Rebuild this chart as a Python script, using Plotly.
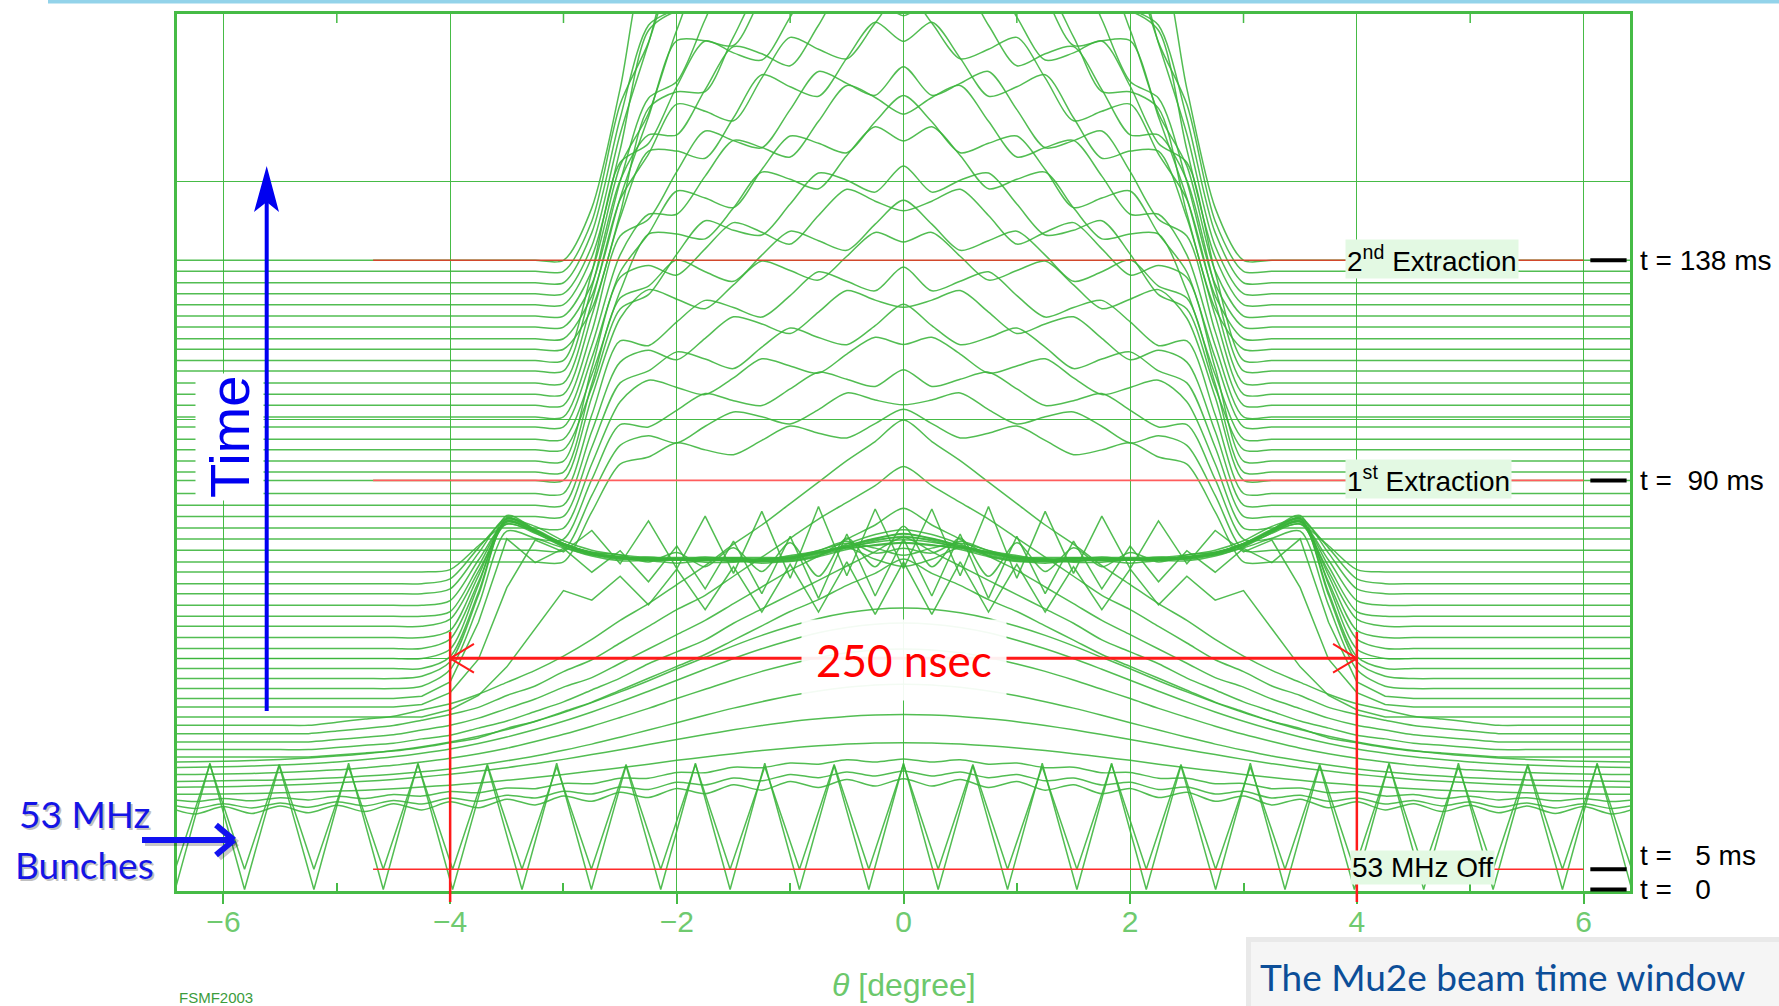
import plotly.graph_objects as go

# ---------------------------------------------------------------- data ----
# half-profile angle grid (mirrored to negative angles when drawn)
THETA_HALF = [0.0, 0.25, 0.5, 0.75, 1.0, 1.25, 1.5, 1.75, 2.0, 2.25, 2.5, 2.75, 3.0,
              3.25, 3.5, 3.75, 4.0, 4.25, 4.5, 4.75, 5.0, 5.25, 5.5, 5.75, 6.0, 6.25, 6.5]
# 53 MHz bunch grid: peaks / valleys every half bunch spacing
THETA_BUNCH_HALF = [0.0, 0.306, 0.612, 0.918, 1.224, 1.53, 1.836, 2.142, 2.448, 2.754, 3.06,
                    3.366, 3.672, 3.978, 4.284, 4.59, 4.896, 5.202, 5.508, 5.814, 6.12, 6.426]

# bunched traces (t = 0 and t = 5 ms)
BUNCH_OFFSETS = [3.0, 11.5]
BUNCH_T0 = [53, 0, 52, 0, 53, 0, 53, 0, 52, 0, 53, 0, 52, 0, 53, 0, 53, 0, 52, 0, 53, 0]
BUNCH_T5 = [44, 0, 44, 0, 43, 0, 44, 0, 44, 0, 43, 0, 44, 0, 44, 0, 43, 0, 44, 0, 44, 0]

# debunching traces
DEBUNCH_OFFSETS = [36.0, 37.7, 40.2, 42.6, 45.4, 48.1, 50.9, 53.8, 56.1, 58.6, 61.7, 64.9, 68.4, 71.9]
DEBUNCH_PROFILES = [
    [13.5, 10.4, 13.2, 9.8, 12.3, 8.7, 11.0, 7.2, 9.4, 5.6, 7.8, 4.0, 6.2, 2.5, 4.9, 1.3, 3.8, 0.4, 3.0, -0.3, 2.4, -0.8, 2.0, -1.1, 1.8, -1.3, 1.7],
    [15, 12.9, 14.6, 12.2, 13.6, 10.9, 12.1, 9.2, 10.3, 7.3, 8.3, 5.4, 6.5, 3.7, 4.9, 2.3, 3.7, 1.2, 2.7, 0.4, 2.1, -0.2, 1.6, -0.5, 1.3, -0.7, 1.2],
    [17.6, 16.3, 17.2, 15.4, 15.9, 13.9, 14.1, 11.8, 11.9, 9.5, 9.5, 7.2, 7.3, 5.1, 5.4, 3.4, 3.9, 2.0, 2.7, 1.0, 1.9, 0.4, 1.3, 0.0, 1.0, -0.3, 0.8],
    [22, 21.9, 21.4, 20.7, 19.8, 18.7, 17.4, 16.0, 14.6, 13.0, 11.5, 10.1, 8.7, 7.4, 6.2, 5.1, 4.2, 3.4, 2.7, 2.1, 1.7, 1.3, 1.0, 0.7, 0.5, 0.4, 0.3],
    [31, 30.8, 30.2, 29.2, 28.0, 26.4, 24.6, 22.6, 20.5, 18.4, 16.2, 14.2, 12.2, 10.4, 8.7, 7.3, 6.0, 4.8, 3.8, 3.0, 2.4, 1.8, 1.4, 1.0, 0.7, 0.6, 0.4],
    [41, 40.7, 39.7, 38.2, 36.2, 33.7, 31.0, 28.0, 24.9, 21.8, 18.8, 15.9, 13.3, 10.9, 8.9, 7.1, 5.5, 4.3, 3.3, 2.5, 1.8, 1.3, 0.9, 0.7, 0.5, 0.3, 0.2],
    [53, 52.6, 51.4, 49.4, 46.7, 43.6, 40.0, 36.1, 32.2, 28.1, 24.3, 20.6, 17.2, 14.2, 11.4, 9.1, 7.2, 5.6, 4.2, 3.2, 2.3, 1.7, 1.2, 0.8, 0.6, 0.4, 0.3],
    [61, 60.5, 59.1, 56.9, 53.8, 50.2, 46.1, 41.6, 37.0, 32.4, 27.9, 23.7, 19.8, 16.3, 13.2, 10.5, 8.2, 6.4, 4.9, 3.7, 2.7, 2.0, 1.4, 1.0, 0.7, 0.5, 0.3],
    [65, 64.5, 63.0, 60.6, 57.3, 53.5, 49.1, 44.3, 39.5, 34.5, 29.8, 25.3, 21.1, 17.4, 14.0, 11.2, 8.8, 6.8, 5.2, 3.9, 2.9, 2.1, 1.5, 1.0, 0.7, 0.5, 0.3],
    [83, 77, 72, 66, 61, 55, 49, 43, 38, 33, 28, 23, 19, 15, 12, 8, 6, 4, 2.5, 1.7, 0.8, 0, 0, 0, 0, 0, 0],
    [89, 83, 77, 71, 65, 59, 53, 46, 41, 36, 30, 25, 20, 16, 12, 9, 6, 4.5, 2.7, 1.8, 0.9, 0, 0, 0, 0, 0, 0],
    [98, 91, 85, 78, 72, 65, 58, 51, 45, 39, 33, 27, 23, 18, 14, 10, 7, 5, 3, 2, 1, 0, 0, 0, 0, 0, 0],
    [112, 104, 97, 90, 82, 74, 66, 58, 52, 45, 38, 31, 26, 20, 16, 11, 8, 5.6, 3.4, 2.2, 1.1, 0, 0, 0, 0, 0, 0],
    [128, 119, 111, 102, 93, 84, 76, 67, 59, 51, 44, 36, 29, 23, 18, 13, 9, 6.4, 3.8, 2.6, 1.3, 0, 0, 0, 0, 0, 0],
]

# strongly modulated traces
RIPPLE_OFFSETS = [75.4, 79.6, 83.1]
RIPPLE_PROFILES = [
    [65, 43, 65, 44, 64, 44, 63, 45, 62, 47, 59, 49, 53, 37, 21, 9, 3, 0, 0, 0, 0, 0, 0, 0, 0, 0, 0],
    [58, 83, 55, 84, 54, 82, 56, 80, 58, 78, 60, 74, 65, 70, 50, 20, 6, 1, 0, 0, 0, 0, 0, 0, 0, 0, 0],
    [67, 43, 69, 42, 68, 44, 66, 46, 64, 49, 62, 53, 63, 57, 67, 32, 7, 1, 0, 0, 0, 0, 0, 0, 0, 0, 0],
]

# beam held in the 250 nsec window (flat top with ears)
BUCKET_OFFSETS = [87.3, 91.5, 95.7, 99.9, 104.1, 108.7, 113.4, 117.6, 122.2, 127.1, 131.3, 136.2]
BUCKET_PROFILES = [
    [65, 63, 60, 57, 55, 54, 53, 53, 54, 54, 55, 56, 59, 63, 66, 35, 8, 1, 0, 0, 0, 0, 0, 0, 0, 0, 0],
    [47, 50, 55, 53, 50, 49, 50, 51, 50, 51, 50, 52, 56, 62, 67, 35, 7, 1, 0, 0, 0, 0, 0, 0, 0, 0, 0],
    [54, 53, 51, 49, 47, 46, 46, 46, 46, 46, 47, 48, 52, 58, 63, 32, 5, 0, 0, 0, 0, 0, 0, 0, 0, 0, 0],
    [54, 52, 48, 43, 41, 40, 41, 41, 40, 41, 41, 43, 47, 54, 60, 31, 4, 0, 0, 0, 0, 0, 0, 0, 0, 0, 0],
    [42, 40, 45, 41, 39, 37, 38, 37, 38, 37, 38, 40, 44, 49, 53, 28, 4, 0, 0, 0, 0, 0, 0, 0, 0, 0, 0],
    [42, 41, 38, 35, 33, 33, 32, 33, 33, 33, 33, 35, 38, 44, 49, 26, 3, 0, 0, 0, 0, 0, 0, 0, 0, 0, 0],
    [42, 25, 37, 21, 35, 23, 33, 25, 31, 27, 30, 31, 34, 39, 43, 23, 3, 0, 0, 0, 0, 0, 0, 0, 0, 0, 0],
    [31, 30, 28, 25, 23, 23, 23, 24, 24, 24, 25, 27, 30, 36, 40, 21, 2, 0, 0, 0, 0, 0, 0, 0, 0, 0, 0],
    [21, 24, 26, 23, 20, 19, 20, 19, 19, 20, 20, 22, 26, 31, 35, 19, 2, 0, 0, 0, 0, 0, 0, 0, 0, 0, 0],
    [25, 23, 20, 17, 15, 14, 14, 14, 14, 14, 15, 17, 21, 27, 32, 17, 2, 0, 0, 0, 0, 0, 0, 0, 0, 0, 0],
    [17, 16, 15, 13, 11, 11, 11, 11, 11, 11, 12, 14, 18, 24, 27, 15, 2, 0, 0, 0, 0, 0, 0, 0, 0, 0, 0],
    [15, 13, 10, 7, 5, 5, 5, 5, 5, 5, 6, 8, 12, 17, 20, 11, 1, 0, 0, 0, 0, 0, 0, 0, 0, 0, 0],
]

# traces during resonant extraction (tall central mountain)
MOUNTAIN_OFFSETS = [140.4, 145.3, 150.0, 154.6, 159.5, 164.2, 169.1, 174.6, 178.1, 182.7, 187.5, 191.9,
                    197.0, 201.2, 206.1, 210.7, 215.4, 220.5, 224.9, 229.6, 234.0, 238.9, 243.5, 248.3,
                    252.9, 257.5, 262.3, 266.9]
MOUNTAIN_PROFILES = [
    [64, 58, 52, 54, 57, 51, 45, 47, 50, 44, 41, 21, 0, 0, 0, 0, 0, 0, 0, 0, 0, 0, 0, 0, 0, 0, 0],
    [61, 63, 66, 59, 53, 56, 58, 52, 45, 48, 44, 23, 0, 0, 0, 0, 0, 0, 0, 0, 0, 0, 0, 0, 0, 0, 0],
    [71, 64, 67, 70, 63, 56, 58, 61, 54, 47, 48, 25, 0, 0, 0, 0, 0, 0, 0, 0, 0, 0, 0, 0, 0, 0, 0],
    [77, 80, 73, 65, 68, 71, 63, 56, 59, 62, 53, 27, 0, 0, 0, 0, 0, 0, 0, 0, 0, 0, 0, 0, 0, 0, 0],
    [89, 80, 72, 75, 79, 71, 62, 66, 69, 61, 56, 29, 0, 0, 0, 0, 0, 0, 0, 0, 0, 0, 0, 0, 0, 0, 0],
    [83, 86, 90, 81, 72, 76, 79, 70, 61, 65, 60, 31, 0, 0, 0, 0, 0, 0, 0, 0, 0, 0, 0, 0, 0, 0, 0],
    [95, 85, 89, 93, 83, 74, 78, 81, 72, 62, 64, 33, 0, 0, 0, 0, 0, 0, 0, 0, 0, 0, 0, 0, 0, 0, 0],
    [100, 104, 94, 84, 88, 92, 82, 72, 76, 80, 68, 35, 0, 0, 0, 0, 0, 0, 0, 0, 0, 0, 0, 0, 0, 0, 0],
    [114, 104, 93, 97, 101, 91, 80, 84, 89, 78, 73, 37, 0, 0, 0, 0, 0, 0, 0, 0, 0, 0, 0, 0, 0, 0, 0],
    [105, 109, 114, 103, 91, 96, 100, 89, 78, 82, 77, 39, 0, 0, 0, 0, 0, 0, 0, 0, 0, 0, 0, 0, 0, 0, 0],
    [119, 108, 113, 116, 103, 90, 92, 96, 82, 65, 59, 26, 0, 0, 0, 0, 0, 0, 0, 0, 0, 0, 0, 0, 0, 0, 0],
    [125, 131, 119, 105, 109, 112, 97, 84, 86, 86, 62, 27, 0, 0, 0, 0, 0, 0, 0, 0, 0, 0, 0, 0, 0, 0, 0],
    [139, 128, 115, 119, 122, 108, 92, 96, 99, 81, 65, 29, 0, 0, 0, 0, 0, 0, 0, 0, 0, 0, 0, 0, 0, 0, 0],
    [127, 134, 139, 124, 109, 113, 116, 101, 85, 85, 68, 30, 0, 0, 0, 0, 0, 0, 0, 0, 0, 0, 0, 0, 0, 0, 0],
    [142, 130, 135, 140, 124, 108, 111, 115, 98, 78, 71, 31, 0, 0, 0, 0, 0, 0, 0, 0, 0, 0, 0, 0, 0, 0, 0],
    [148, 156, 141, 125, 129, 134, 116, 99, 102, 102, 74, 33, 0, 0, 0, 0, 0, 0, 0, 0, 0, 0, 0, 0, 0, 0, 0],
    [165, 151, 136, 140, 145, 128, 110, 114, 117, 96, 77, 34, 0, 0, 0, 0, 0, 0, 0, 0, 0, 0, 0, 0, 0, 0, 0],
    [149, 157, 163, 145, 128, 133, 136, 118, 99, 99, 80, 35, 0, 0, 0, 0, 0, 0, 0, 0, 0, 0, 0, 0, 0, 0, 0],
    [166, 151, 158, 163, 144, 126, 129, 134, 115, 91, 83, 37, 0, 0, 0, 0, 0, 0, 0, 0, 0, 0, 0, 0, 0, 0, 0],
    [172, 180, 163, 144, 148, 151, 131, 108, 108, 101, 57, 17, 0, 0, 0, 0, 0, 0, 0, 0, 0, 0, 0, 0, 0, 0, 0],
    [191, 174, 157, 162, 166, 144, 123, 125, 125, 93, 59, 18, 0, 0, 0, 0, 0, 0, 0, 0, 0, 0, 0, 0, 0, 0, 0],
    [171, 180, 187, 167, 145, 149, 153, 129, 103, 96, 61, 18, 0, 0, 0, 0, 0, 0, 0, 0, 0, 0, 0, 0, 0, 0, 0],
    [190, 173, 180, 186, 163, 140, 144, 146, 120, 85, 63, 19, 0, 0, 0, 0, 0, 0, 0, 0, 0, 0, 0, 0, 0, 0, 0],
    [196, 205, 186, 164, 168, 172, 149, 123, 123, 115, 65, 20, 0, 0, 0, 0, 0, 0, 0, 0, 0, 0, 0, 0, 0, 0, 0],
    [216, 198, 177, 183, 187, 163, 139, 141, 141, 105, 67, 20, 0, 0, 0, 0, 0, 0, 0, 0, 0, 0, 0, 0, 0, 0, 0],
    [193, 203, 212, 189, 164, 168, 172, 145, 116, 108, 69, 21, 0, 0, 0, 0, 0, 0, 0, 0, 0, 0, 0, 0, 0, 0, 0],
    [213, 194, 203, 209, 183, 158, 162, 164, 134, 96, 70, 21, 0, 0, 0, 0, 0, 0, 0, 0, 0, 0, 0, 0, 0, 0, 0],
    [219, 230, 208, 184, 189, 193, 167, 138, 138, 129, 72, 22, 0, 0, 0, 0, 0, 0, 0, 0, 0, 0, 0, 0, 0, 0, 0],
]

X_TICKS = [-6, -4, -2, 0, 2, 4, 6]
MINOR_TICKS = [-5, -3, -1, 1, 3, 5]
WINDOW_EDGES = [-4, 4]          # 250 nsec window in degrees
EXTRACTION_LABELS = ["2<sup>nd</sup> Extraction", "1<sup>st</sup> Extraction", "53 MHz Off"]
TIME_LABELS = ["t = 138 ms", "t = \u00a090 ms", "t = \u00a0\u00a05 ms", "t = \u00a0\u00a00"]

# ---------------------------------------------------------------- style ----
W, H = 1779, 1006
M_L, M_R, M_T, M_B = 177, 149, 14, 115
PLOT_W = W - M_L - M_R
PLOT_H = H - M_T - M_B
X_RANGE = [-6.41, 6.41]
Y_RANGE = [2.4, 370.2]
GREEN = "#46bb46"
TRACE_GREEN = "rgba(58,180,58,0.88)"
LABEL_BG = "#e3f9e3"


def xp(theta):
    return (theta - X_RANGE[0]) / (X_RANGE[1] - X_RANGE[0])


def yp(u):
    return (u - Y_RANGE[0]) / (Y_RANGE[1] - Y_RANGE[0])


def pxx(px):
    return (px - M_L) / PLOT_W


def pxy(py):
    return (H - M_B - py) / PLOT_H


def mirror(theta_half, vals_half):
    th = [-t for t in reversed(theta_half[1:])] + list(theta_half)
    vv = list(reversed(vals_half[1:])) + list(vals_half)
    return th, vv


fig = go.Figure()


def add_trace(theta_half, offset, profile, shape):
    th, vv = mirror(theta_half, profile)
    fig.add_trace(go.Scatter(
        x=th, y=[offset + v for v in vv], mode="lines",
        line=dict(color=TRACE_GREEN, width=1.5, shape=shape, smoothing=0.8),
        hoverinfo="skip", showlegend=False))


add_trace(THETA_BUNCH_HALF, BUNCH_OFFSETS[0], BUNCH_T0, "linear")
add_trace(THETA_BUNCH_HALF, BUNCH_OFFSETS[1], BUNCH_T5, "linear")
for off, prof in zip(DEBUNCH_OFFSETS, DEBUNCH_PROFILES):
    add_trace(THETA_HALF, off, prof, "spline")
for off, prof in zip(RIPPLE_OFFSETS, RIPPLE_PROFILES):
    add_trace(THETA_HALF, off, prof, "linear")
for off, prof in zip(BUCKET_OFFSETS, BUCKET_PROFILES):
    add_trace(THETA_HALF, off, prof, "spline")
for off, prof in zip(MOUNTAIN_OFFSETS, MOUNTAIN_PROFILES):
    add_trace(THETA_HALF, off, prof, "spline")

# ---------------------------------------------------------------- shapes ----
shapes = []
# minor ticks on the top frame (inside)
for t in MINOR_TICKS:
    shapes.append(dict(type="line", xref="paper", yref="paper", x0=xp(t), x1=xp(t),
                       y0=1.0, y1=pxy(M_T + 9), line=dict(color=GREEN, width=1.5)))
levels = [MOUNTAIN_OFFSETS[-1], MOUNTAIN_OFFSETS[7], BUNCH_OFFSETS[1]]
level_colors = ["#d2472b", "#ff5c5c", "#ff2a2a"]
for lv, col in zip(levels, level_colors):
    shapes.append(dict(type="line", xref="paper", yref="paper", x0=xp(-4.68), x1=xp(6.0),
                       y0=yp(lv), y1=yp(lv), line=dict(color=col, width=1.6)))
for lv in levels + [BUNCH_OFFSETS[0]]:
    shapes.append(dict(type="line", xref="paper", yref="paper", x0=xp(6.06), x1=xp(6.38),
                       y0=yp(lv), y1=yp(lv), line=dict(color="black", width=4)))
# 250 nsec window
for e in WINDOW_EDGES:
    shapes.append(dict(type="line", xref="paper", yref="paper", x0=xp(e), x1=xp(e),
                       y0=pxy(902), y1=yp(111), line=dict(color="#ff1a1a", width=2.5)))
shapes.append(dict(type="line", xref="paper", yref="paper", x0=xp(WINDOW_EDGES[0]), x1=xp(WINDOW_EDGES[1]),
                   y0=yp(100), y1=yp(100), line=dict(color="#ff1a1a", width=3)))
for e, d in [(WINDOW_EDGES[0], 1), (WINDOW_EDGES[1], -1)]:
    for s in (1, -1):
        shapes.append(dict(type="line", xref="paper", yref="paper", x0=xp(e), x1=xp(e + d * 0.21),
                           y0=yp(100), y1=yp(100 + s * 6), line=dict(color="#ff1a1a", width=2)))
# "Time" arrow
tx = pxx(266.7)
shapes.append(dict(type="line", xref="paper", yref="paper", x0=tx, x1=tx, y0=pxy(711), y1=pxy(200),
                   line=dict(color="#0000f0", width=4)))
shapes.append(dict(type="path", xref="paper", yref="paper", fillcolor="#0000f0", line=dict(width=0),
                   path=f"M {tx},{pxy(166)} L {pxx(254)},{pxy(212)} L {tx},{pxy(202)} L {pxx(279)},{pxy(212)} Z"))
# "Bunches" arrow (shadow + arrow)
for dx, dy, col in [(3, 3, "rgba(0,0,0,0.22)"), (0, 0, "#1212f0")]:
    shapes.append(dict(type="line", xref="paper", yref="paper", x0=pxx(142 + dx), x1=pxx(232 + dx),
                       y0=pxy(840 + dy), y1=pxy(840 + dy), line=dict(color=col, width=6)))
    for s in (1, -1):
        shapes.append(dict(type="line", xref="paper", yref="paper", x0=pxx(234 + dx), x1=pxx(216 + dx),
                           y0=pxy(840 + dy), y1=pxy(840 + dy + s * 15), line=dict(color=col, width=6)))
# slide decorations
shapes.append(dict(type="rect", xref="paper", yref="paper", x0=pxx(48), x1=pxx(W), y0=pxy(3.5), y1=pxy(0),
                   fillcolor="#93d3ea", line=dict(width=0)))
shapes.append(dict(type="rect", xref="paper", yref="paper", x0=pxx(1246), x1=pxx(W), y0=pxy(H), y1=pxy(937),
                   fillcolor="#e9e9e9", line=dict(width=0)))
shapes.append(dict(type="rect", xref="paper", yref="paper", x0=pxx(1251), x1=pxx(W), y0=pxy(H), y1=pxy(942),
                   fillcolor="#f5f5f5", line=dict(width=0)))

# ---------------------------------------------------------------- annotations ----
ann = []
label_theta = [4.66, 4.63, 4.58]
for txt, lv, th in zip(EXTRACTION_LABELS, levels, label_theta):
    ann.append(dict(text=txt, xref="paper", yref="paper", x=xp(th), y=yp(lv) + 0.002, showarrow=False,
                    font=dict(family="Liberation Sans, Arial", size=28, color="black"),
                    bgcolor=LABEL_BG, borderpad=1, xanchor="center", yanchor="middle"))
t_y = [yp(levels[0]), yp(levels[1]), pxy(855), pxy(889)]
for txt, yy in zip(TIME_LABELS, t_y):
    ann.append(dict(text=txt, xref="paper", yref="paper", x=pxx(1638), y=yy, showarrow=False,
                    font=dict(family="Liberation Sans, Arial", size=28, color="black"),
                    xanchor="left", yanchor="middle"))
ann.append(dict(text="Time", xref="paper", yref="paper", x=pxx(229), y=pxy(437), showarrow=False,
                textangle=-90, font=dict(family="Liberation Sans, Arial", size=56, color="#0000f0"),
                bgcolor="white", borderpad=2, xanchor="center", yanchor="middle"))
for dx, col in [(2.5, "rgba(0,0,0,0.25)"), (0, "#1414e6")]:
    ann.append(dict(text="53 MHz", xref="paper", yref="paper", x=pxx(84 + dx), y=pxy(813 + dx), showarrow=False,
                    font=dict(family="Lato, Open Sans", size=37, color=col), xanchor="center", yanchor="middle"))
    ann.append(dict(text="Bunches", xref="paper", yref="paper", x=pxx(84 + dx), y=pxy(864 + dx), showarrow=False,
                    font=dict(family="Lato, Open Sans", size=37, color=col), xanchor="center", yanchor="middle"))
ann.append(dict(text="250 nsec", xref="paper", yref="paper", x=xp(0), y=pxy(660), showarrow=False,
                font=dict(family="Lato, Open Sans", size=44, color="#ff0000"),
                bgcolor="rgba(255,255,255,0.93)", borderpad=14, xanchor="center", yanchor="middle"))
ann.append(dict(text="<i>θ</i> [degree]", xref="paper", yref="paper", x=xp(0), y=pxy(985), showarrow=False,
                font=dict(family="Liberation Sans, Arial", size=32, color="#6cc86c"),
                xanchor="center", yanchor="middle"))
ann.append(dict(text="FSMF2003", xref="paper", yref="paper", x=pxx(177), y=pxy(997), showarrow=False,
                font=dict(family="Liberation Sans, Arial", size=15, color="#3c9c3c"),
                xanchor="left", yanchor="middle"))
ann.append(dict(text="The Mu2e beam time window", xref="paper", yref="paper", x=pxx(1258), y=pxy(976),
                showarrow=False, font=dict(family="Lato, Open Sans", size=37, color="#0c4e98"),
                xanchor="left", yanchor="middle"))

fig.update_layout(
    width=W, height=H,
    margin=dict(l=M_L, r=M_R, t=M_T, b=M_B, pad=0),
    paper_bgcolor="white", plot_bgcolor="white",
    showlegend=False,
    xaxis=dict(range=X_RANGE, tickvals=X_TICKS, showgrid=True, gridcolor=GREEN, gridwidth=1.3,
               zeroline=False, showline=True, mirror=True, linecolor=GREEN, linewidth=2.5,
               ticks="outside", ticklen=10, tickcolor=GREEN, tickwidth=1.5, ticklabelstandoff=-8,
               tickfont=dict(family="Liberation Sans, Arial", size=30, color="#6fca6f"),
               minor=dict(tickvals=MINOR_TICKS, ticks="inside", ticklen=8, tickcolor=GREEN, tickwidth=1.5,
                          showgrid=False)),
    yaxis=dict(range=Y_RANGE, dtick=100, tick0=0, showgrid=True, gridcolor=GREEN, gridwidth=1.3,
               zeroline=False, showline=True, mirror=True, linecolor=GREEN, linewidth=2.5,
               showticklabels=False, ticks=""),
    shapes=shapes,
    annotations=ann,
)

fig.write_html("out.html", config={"displayModeBar": False})
